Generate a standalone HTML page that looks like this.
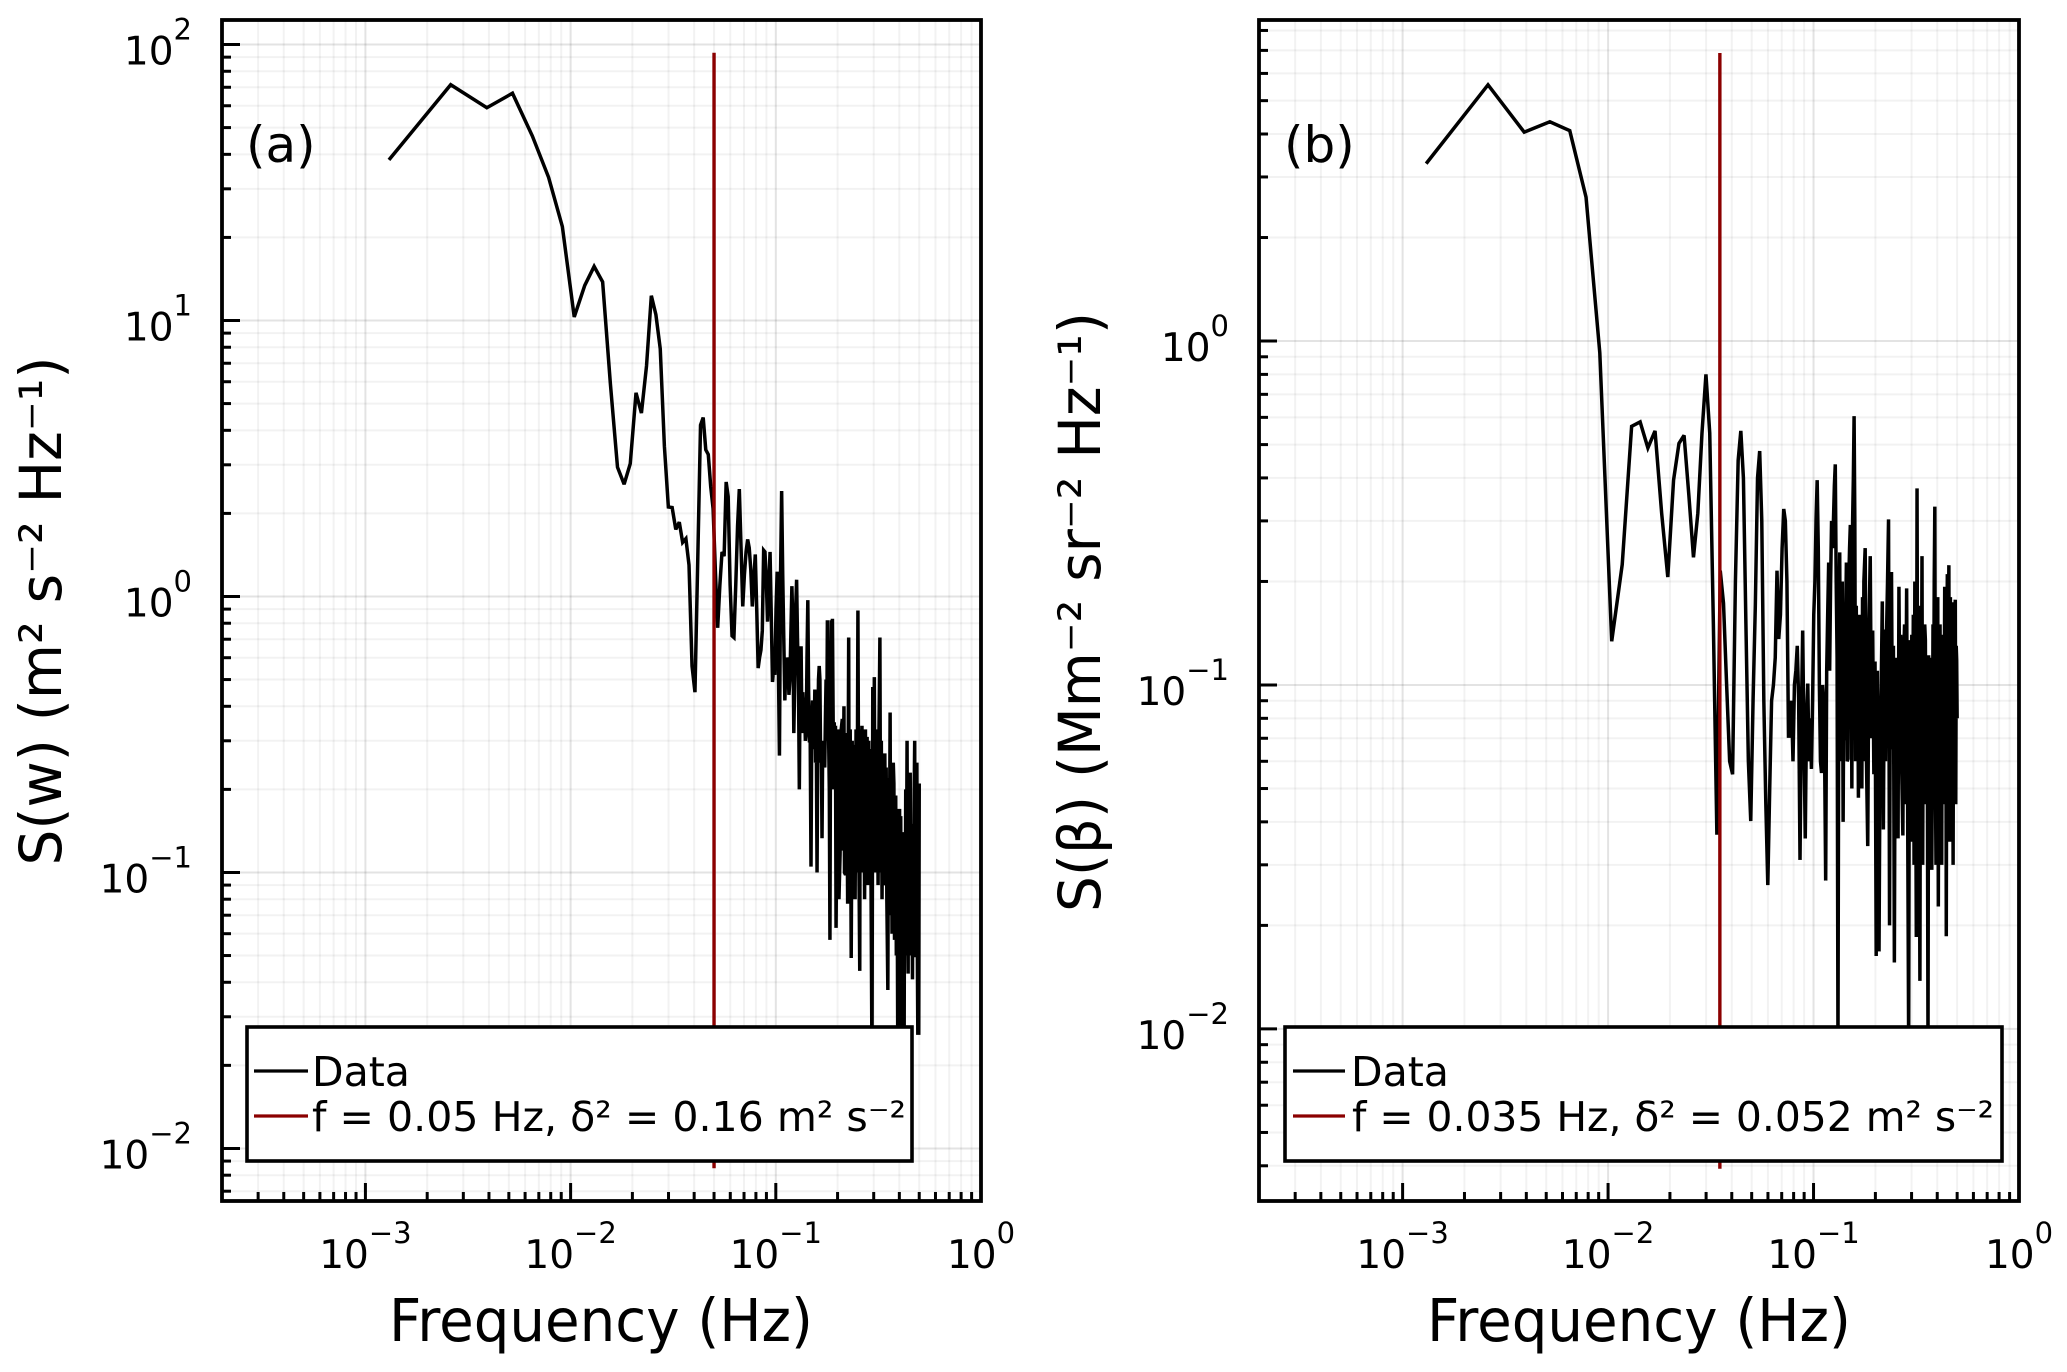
<!DOCTYPE html>
<html lang="en">
<head>
<meta charset="utf-8">
<title>Spectra of w and beta</title>
<style>
html,body{margin:0;padding:0;background:#fff;width:2067px;height:1372px;overflow:hidden}
svg{display:block}
text{font-family:"DejaVu Sans","Liberation Sans",sans-serif;fill:#000}
</style>
</head>
<body>
<svg id="figure" xmlns="http://www.w3.org/2000/svg" width="2067" height="1372" viewBox="0 0 2067 1372">
  <rect x="0" y="0" width="2067" height="1372" fill="#fff"/>

  <g id="panel-a">
    <g id="a-grid"></g>
    <g id="a-series"></g>
    <g id="a-axes"></g>
    <text x="246" y="162" font-size="50">(a)</text>
    <text x="601" y="1341" font-size="59" text-anchor="middle" textLength="424" lengthAdjust="spacingAndGlyphs">Frequency (Hz)</text>
    <text transform="translate(61,611) rotate(-90)" font-size="58" text-anchor="middle" textLength="509" lengthAdjust="spacingAndGlyphs">S(w) (m² s⁻² Hz⁻¹)</text>
    <g>
      <rect x="247" y="1027" width="665" height="134" fill="#fff" stroke="#000" stroke-width="3.6"/>
      <line x1="254" x2="308" y1="1071" y2="1071" stroke="#000" stroke-width="3.2"/>
      <text x="312" y="1086" font-size="41">Data</text>
      <line x1="254" x2="308" y1="1116" y2="1116" stroke="#8b0000" stroke-width="3.2"/>
      <text x="312" y="1131" font-size="41" textLength="594" lengthAdjust="spacingAndGlyphs">f = 0.05 Hz, δ² = 0.16 m² s⁻²</text>
    </g>
  </g>

  <g id="panel-b">
    <g id="b-grid"></g>
    <g id="b-series"></g>
    <g id="b-axes"></g>
    <text x="1284" y="162" font-size="50">(b)</text>
    <text x="1639" y="1341" font-size="59" text-anchor="middle" textLength="424" lengthAdjust="spacingAndGlyphs">Frequency (Hz)</text>
    <text transform="translate(1100,612) rotate(-90)" font-size="58" text-anchor="middle" textLength="600" lengthAdjust="spacingAndGlyphs">S(β) (Mm⁻² sr⁻² Hz⁻¹)</text>
    <g>
      <rect x="1285" y="1027" width="717" height="134" fill="#fff" stroke="#000" stroke-width="3.6"/>
      <line x1="1293" x2="1345" y1="1071" y2="1071" stroke="#000" stroke-width="3.2"/>
      <text x="1351" y="1086" font-size="41">Data</text>
      <line x1="1293" x2="1345" y1="1116" y2="1116" stroke="#8b0000" stroke-width="3.2"/>
      <text x="1352" y="1131" font-size="41" textLength="642" lengthAdjust="spacingAndGlyphs">f = 0.035 Hz, δ² = 0.052 m² s⁻²</text>
    </g>
  </g>
</svg>

<script>
// ---------- shared axis data ----------
const binWidthHz = 0.001302;
const xLimits = [0.0002, 1];
const xTickExponents = [-3, -2, -1, 0];

// ---------- panel (a) data ----------
const yLimitsA = [0.00645, 122.7];
const yTickExponentsA = [2, 1, 0, -1, -2];
const cutoffFrequencyA = 0.05;
const cutoffSpanA = [0.00848, 93.4];
const binsA = [
1,2,3,4,5,6,7,8,9,10,
11,12,13,14,15,16,17,18,19,20,
21,22,23,24,25,26,27,28,29,30,
31,32,33,34,35,36,37,38,39,40,
41,42,43,44,45,46,47,48,49,50,
51,52,53,54,55,56,57,58,59,60,
61,62,63,64,65,66,67,68,69,70,
71,72,73,74,75,76,77,78,79,80,
81,82,83,84,85,86,87,88,89,90,
91,92,93,94,95,96,97,98,99,100,
101,102,103,104,105,106,107,108,109,110,
111,112,113,114,115,116,117,118,119,120,
121,122,123,124,125,126,127,128,129,130,
131,132,133,134,135,136,137,138,139,140,
141,142,143,144,145,146,147,148,149,150,
151,152,154,156,158,160,162,163,165,166,
168,170,172,174,175,177,179,181,183,185,
187,189,191,193,195,197,198,200,202,204,
206,208,210,212,214,216,218,220,222,224,
226,228,230,232,234,236,238,240,242,244,
247,249,251,253,255,257,259,261,263,265,
267,270,272,274,277,279,281,283,285,287,
289,291,293,295,297,299,302,304,306,308,
310,312,314,316,318,320,322,324,326,328,
330,332,335,337,339,341,344,347,350,353,
356,358,360,363,365,367,370,374,376,378,
380,382,384
];
const spectrumA = [
38.2,71.5,59,66.6,46.6,33,21.9,10.3,13.4,15.7,
13.8,5.9,2.94,2.55,3.03,5.47,4.62,6.84,12.3,10.5,
7.9,3.5,2.11,2.1,1.75,1.86,1.57,1.62,1.3,.56,
.45,1.38,4.18,4.45,3.4,3.27,2.5,2.08,1.23,.77,
1.1,1.45,1.4,2.6,2.3,1.1,.72,.71,1.1,1.8,
2.45,1.5,.92,1.2,1.45,1.61,1.5,1.25,.92,1.15,
1.42,.9,.55,.6,.64,.75,1.47,1.45,1.15,.81,
1.1,1.45,.85,.49,.55,.52,.9,1.23,.6,.265,
1.2,2.41,1.2,.7,.42,.55,.6,.58,.44,.5,
.75,1.09,.8,.32,.5,.9,1.15,.7,.5,.2,
.55,.66,.32,.45,.36,.43,.3,.32,.6,.97,
.45,.3,.3,.105,.35,.42,.28,.3,.46,.25,
.3,.1,.3,.5,.56,.5,.25,.3,.133,.3,
.25,.25,.24,.36,.5,.3,.82,.4,.3,.2,
.057,.4,.82,.6,.83,.4,.2,.35,.2,.34,
.063,.12,.33,.08,.117,.33,.36,.12,.4,.1,
.098,.32,.077,.71,.12,.33,.049,.3,.08,.29,
.08,.33,.1,.89,.12,.044,.33,.1,.34,.1,
.3,.08,.33,.09,.31,.11,.3,.09,.28,.07,
.02,.47,.1,.51,.1,.33,.103,.31,.09,.28,
.71,.1,.3,.08,.27,.09,.093,.27,.09,.24,
.08,.0375,.22,.07,.38,.07,.22,.06,.2,.25,
.21,.057,.18,.19,.05,.16,.02,.17,.019,.17,
.02,.16,.05,.02,.14,.018,.13,.02,.14,.05,
.2,.06,.3,.07,.043,.2,.05,.23,.05,.15,
.041,.12,.06,.2,.3,.05,.05,.25,.05,.0258,
.15,.0258,.21
];

// ---------- panel (b) data ----------
const yLimitsB = [0.00316, 8.58];
const yTickExponentsB = [0, -1, -2];
const cutoffFrequencyB = 0.035;
const cutoffSpanB = [0.00392, 6.88];
const binsB = [
1,2,3,4,5,6,7,8,9,10,
11,12,13,14,15,16,17,18,19,20,
21,22,23,24,25,26,27,28,29,30,
31,32,33,34,35,36,37,38,39,40,
41,42,43,44,45,46,47,48,49,50,
51,52,53,54,55,56,57,58,59,60,
61,62,63,64,65,66,67,68,69,70,
71,72,73,74,75,76,77,78,79,80,
81,82,83,84,85,86,87,88,89,90,
91,92,93,94,95,96,97,98,99,100,
101,102,103,104,105,106,107,108,109,110,
111,112,113,114,115,116,117,118,119,120,
121,122,123,124,125,126,127,128,129,130,
131,132,133,134,135,
137,139,141,143,145,147,149,151,153,155,
157,160,162,164,166,168,170,172,174,176,
178,180,182,184,186,188,190,192,194,196,
198,200,202,204,206,209,211,213,215,218,
220,223,225,227,229,231,233,235,237,239,
241,243,245,247,249,251,253,255,257,259,
261,263,265,267,269,271,273,275,277,279,
281,283,285,287,289,291,293,295,297,299,
301,303,305,307,309,311,313,315,317,319,
321,323,325,327,329,331,334,336,338,340,
342,344,346,348,350,352,354,356,358,361,
363,365,367,369,371,373,376,378,380,382,384
];
const spectrumB = [
3.28,5.56,4.05,4.34,4.09,2.62,.925,.134,.224,.565,
.582,.489,.548,.316,.206,.394,.504,.532,.355,.235,
.316,.54,.8,.54,.15,.0367,.215,.173,.1,.06,
.055,.2,.45,.548,.4,.15,.06,.0402,.09,.17,
.4,.479,.3,.09,.045,.0262,.05,.09,.1,.12,
.215,.136,.16,.25,.325,.3,.2,.071,.071,.09,
.06,.1,.11,.13,.09,.031,.08,.144,.07,.0358,
.08,.101,.06,.08,.057,.09,.16,.2,.3,.394,
.25,.1,.06,.0555,.1,.09,.06,.027,.11,.16,
.227,.11,.2,.3,.25,.3,.38,.438,.2,.12,
.009,.13,.243,.06,.15,.2,.04,.12,.069,.15,
.227,.06,.061,.2,.25,.292,.2,.05,.3,.4,
.605,.3,.06,.17,.07,.12,.047,.14,.16,.05,
.15,.05,.18,.06,.2,
.25,.06,.034,.15,.237,.07,.144,.055,.117,.0163,
.11,.0168,.07,.1,.175,.038,.145,.06,.14,.2,
.303,.02,.17,.213,.065,.13,.0156,.12,.05,.12,
.0358,.193,.08,.14,.06,.0365,.12,.15,.045,.191,
.06,.009,.12,.135,.035,.14,.06,.16,.03,.2,
.07,.0185,.373,.05,.17,.06,.0138,.16,.06,.237,
.03,.13,.05,.15,.135,.045,.11,.06,.009,.122,
.035,.12,.05,.11,.029,.06,.15,.07,.2,.33,
.055,.03,.14,.05,.18,.0227,.12,.035,.15,.06,
.11,.03,.14,.05,.12,.045,.193,.06,.19,.0186,
.12,.21,.05,.14,.223,.06,.035,.18,.05,.12,
.04,.174,.03,.13,.055,.15,.177,.045,.13,.118,.08
];

// ---------- drawing ----------
const NS = 'http://www.w3.org/2000/svg';
const decadeSubdivisions = [2, 3, 4, 5, 6, 7, 8, 9];

function create(parent, tag, attrs) {
  const el = document.createElementNS(NS, tag);
  for (const key in attrs) el.setAttribute(key, attrs[key]);
  parent.appendChild(el);
  return el;
}

function logScale(limits, start, end) {
  const lo = Math.log10(limits[0]);
  const hi = Math.log10(limits[1]);
  return function (v) {
    return start + (Math.log10(v) - lo) / (hi - lo) * (end - start);
  };
}

function minorValues(limits) {
  const out = [];
  const first = Math.floor(Math.log10(limits[0]));
  const last = Math.ceil(Math.log10(limits[1]));
  for (let e = first; e <= last; e++) {
    decadeSubdivisions.forEach(function (m) {
      const v = m * Math.pow(10, e);
      if (v > limits[0] && v < limits[1]) out.push(v);
    });
  }
  return out;
}

function exponentLabel(parent, x, y, exponent, anchor) {
  const label = create(parent, 'text', { x: x, y: y, 'font-size': 39, 'text-anchor': anchor });
  
  
  const base = create(label, 'tspan', {});
  base.textContent = '10';
  const sup = create(label, 'tspan', { dy: -25, 'font-size': 29 });
  sup.textContent = String(exponent).replace('-', '\u2212');
}

function drawPanel(p) {
  const grid = document.getElementById(p.id + '-grid');
  const series = document.getElementById(p.id + '-series');
  const axes = document.getElementById(p.id + '-axes');
  const xScale = logScale(xLimits, p.left, p.right);
  const yScale = logScale(p.yLimits, p.bottom, p.top);

  // grid lines
  minorValues(xLimits).forEach(function (v) {
    const g = create(grid, 'line', { x1: xScale(v), x2: xScale(v), y1: p.top, y2: p.bottom, stroke: '#000', 'stroke-opacity': 0.05, 'stroke-width': 2 });
    
    
  });
  minorValues(p.yLimits).forEach(function (v) {
    const g = create(grid, 'line', { x1: p.left, x2: p.right, y1: yScale(v), y2: yScale(v), stroke: '#000', 'stroke-opacity': 0.05, 'stroke-width': 2 });
    
    
  });
  xTickExponents.forEach(function (e) {
    const v = Math.pow(10, e);
    const g = create(grid, 'line', { x1: xScale(v), x2: xScale(v), y1: p.top, y2: p.bottom, stroke: '#000', 'stroke-opacity': 0.11, 'stroke-width': 2 });
    
    
  });
  p.yTicks.forEach(function (e) {
    const v = Math.pow(10, e);
    const g = create(grid, 'line', { x1: p.left, x2: p.right, y1: yScale(v), y2: yScale(v), stroke: '#000', 'stroke-opacity': 0.11, 'stroke-width': 2 });
    
    
  });

  // data line
  const pts = p.bins.map(function (b, i) {
    return xScale(b * binWidthHz).toFixed(2) + ',' + yScale(p.values[i]).toFixed(2);
  }).join(' ');
  const dataLine = create(series, 'polyline', { points: pts, fill: 'none', stroke: '#000', 'stroke-width': 3.5, 'stroke-linejoin': 'miter', 'stroke-miterlimit': 3 });
  
  

  // cutoff line
  const cutoff = create(series, 'line', { x1: xScale(p.cutoff), x2: xScale(p.cutoff), y1: yScale(p.cutoffSpan[1]), y2: yScale(p.cutoffSpan[0]), stroke: '#8b0000', 'stroke-width': 3.4 });
  
  

  // ticks
  minorValues(xLimits).forEach(function (v) {
    const t = create(axes, 'line', { x1: xScale(v), x2: xScale(v), y1: p.bottom, y2: p.bottom - 9, stroke: '#000', 'stroke-width': 3 });
    
    
  });
  minorValues(p.yLimits).forEach(function (v) {
    const t = create(axes, 'line', { x1: p.left, x2: p.left + 9, y1: yScale(v), y2: yScale(v), stroke: '#000', 'stroke-width': 3 });
    
    
  });
  xTickExponents.forEach(function (e) {
    const v = Math.pow(10, e);
    const t = create(axes, 'line', { x1: xScale(v), x2: xScale(v), y1: p.bottom, y2: p.bottom - 18, stroke: '#000', 'stroke-width': 3 });
    
    
    exponentLabel(axes, xScale(v), p.bottom + 67, e, 'middle');
  });
  p.yTicks.forEach(function (e) {
    const v = Math.pow(10, e);
    const t = create(axes, 'line', { x1: p.left, x2: p.left + 18, y1: yScale(v), y2: yScale(v), stroke: '#000', 'stroke-width': 3 });
    
    
    exponentLabel(axes, p.left - 30, yScale(v) + 20, e, 'end');
  });

  // frame
  const frame = create(axes, 'rect', { x: p.left, y: p.top, width: p.right - p.left, height: p.bottom - p.top, fill: 'none', stroke: '#000', 'stroke-width': 3.8 });
  
  
}

drawPanel({ id: 'a', left: 222, right: 981, top: 20, bottom: 1201, yLimits: yLimitsA, yTicks: yTickExponentsA, bins: binsA, values: spectrumA, cutoff: cutoffFrequencyA, cutoffSpan: cutoffSpanA });
drawPanel({ id: 'b', left: 1259, right: 2019, top: 20, bottom: 1201, yLimits: yLimitsB, yTicks: yTickExponentsB, bins: binsB, values: spectrumB, cutoff: cutoffFrequencyB, cutoffSpan: cutoffSpanB });
</script>
</body>
</html>
